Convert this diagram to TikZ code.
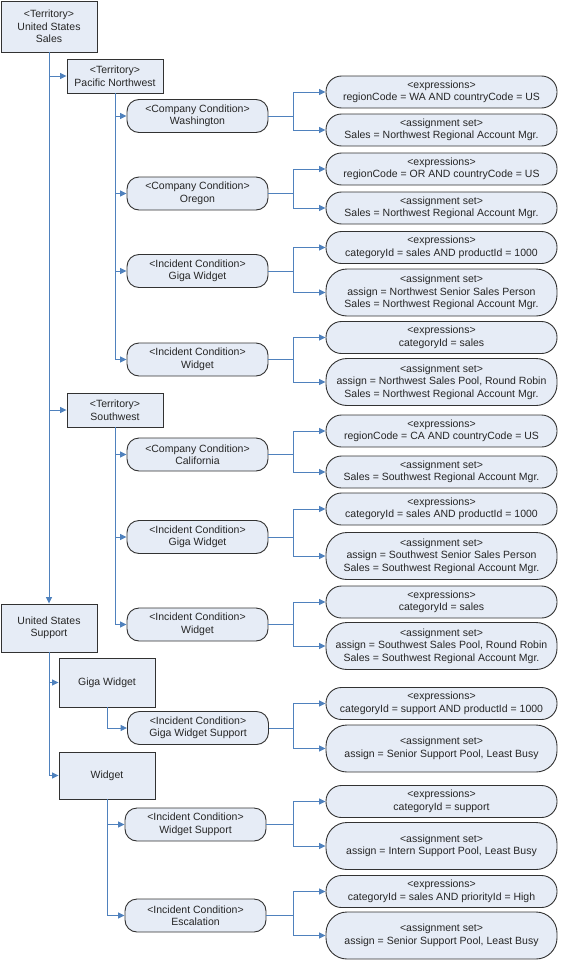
\documentclass[tikz,border=0pt]{standalone}
\usepackage{fontspec}
\setmainfont{Liberation Sans}
\usetikzlibrary{arrows.meta}
\definecolor{boxfill}{RGB}{230,236,246}
\definecolor{boxline}{RGB}{50,50,50}
\definecolor{linkblue}{RGB}{79,129,189}
\begin{document}
\begin{tikzpicture}[x=1pt,y=-1pt,
  every node/.style={font=\fontsize{10.5}{12.5}\selectfont, text=black!85, align=center, inner sep=0pt},
  terr/.style={draw=boxline, fill=boxfill, line width=0.9pt, minimum width=96pt},
  cond/.style={draw=boxline, fill=boxfill, line width=0.9pt, rounded corners=12pt, minimum width=141pt, minimum height=33pt},
  leaf/.style={draw=boxline, fill=boxfill, line width=0.9pt, rounded corners=15.5pt, minimum width=231pt, minimum height=32pt},
  leaftall/.style={leaf, rounded corners=21pt, minimum height=47pt},
  conn/.style={draw=linkblue, line width=0.9pt},
  tip/.style={conn, -{Triangle[length=6.5pt,width=6pt]}}
]
\useasboundingbox (0,0) rectangle (560,961);

% territories and product groups
\node[terr, minimum height=51pt] (ussales) at (49,26.5) {<Territory>\\United States\\Sales};
\node[terr, minimum height=34pt] (pnw) at (115,76) {<Territory>\\Pacific Northwest};
\node[terr, minimum height=34pt] (sw) at (115,410) {<Territory>\\Southwest};
\node[terr, minimum height=48pt] (ussupport) at (49,628) {United States\\Support};
\node[terr, minimum height=49pt] (gw) at (107,682.5) {Giga Widget};
\node[terr, minimum height=47pt] (wd) at (107,775.5) {Widget};

% conditions
\node[cond] (wa)  at (197.5,116)   {<Company Condition>\\Washington};
\node[cond] (or)  at (197.5,193.5) {<Company Condition>\\Oregon};
\node[cond] (gnw) at (197.5,271)   {<Incident Condition>\\Giga Widget};
\node[cond] (wnw) at (197.5,359.5) {<Incident Condition>\\Widget};
\node[cond] (ca)  at (197.5,454.5) {<Company Condition>\\California};
\node[cond] (gsw) at (197.5,537)   {<Incident Condition>\\Giga Widget};
\node[cond] (wsw) at (197.5,624.5) {<Incident Condition>\\Widget};
\node[cond] (gws) at (198,728)     {<Incident Condition>\\Giga Widget Support};
\node[cond] (ws)  at (195.5,824.5) {<Incident Condition>\\Widget Support};
\node[cond] (esc) at (195.5,915.5) {<Incident Condition>\\Escalation};

% expressions and assignment sets
\node[leaf] (waE) at (441.5,92)  {<expressions>\\regionCode = WA AND countryCode = US};
\node[leaf] (waA) at (441.5,130) {<assignment set>\\Sales = Northwest Regional Account Mgr.};
\node[leaf] (orE) at (441.5,169) {<expressions>\\regionCode = OR AND countryCode = US};
\node[leaf] (orA) at (441.5,208) {<assignment set>\\Sales = Northwest Regional Account Mgr.};
\node[leaf] (gnwE) at (441.5,247.5) {<expressions>\\categoryId = sales AND productId = 1000};
\node[leaftall] (gnwA) at (441.5,292.5) {<assignment set>\\assign = Northwest Senior Sales Person\\Sales = Northwest Regional Account Mgr.};
\node[leaf] (wnwE) at (441.5,337.5) {<expressions>\\categoryId = sales};
\node[leaftall] (wnwA) at (441.5,382) {<assignment set>\\assign = Northwest Sales Pool, Round Robin\\Sales = Northwest Regional Account Mgr.};
\node[leaf] (caE) at (441.5,431) {<expressions>\\regionCode = CA AND countryCode = US};
\node[leaf] (caA) at (441.5,472) {<assignment set>\\Sales = Southwest Regional Account Mgr.};
\node[leaf] (gswE) at (441.5,509) {<expressions>\\categoryId = sales AND productId = 1000};
\node[leaftall] (gswA) at (441.5,556) {<assignment set>\\assign = Southwest Senior Sales Person\\Sales = Southwest Regional Account Mgr.};
\node[leaf] (wswE) at (441.5,602) {<expressions>\\categoryId = sales};
\node[leaftall] (wswA) at (441.5,646) {<assignment set>\\assign = Southwest Sales Pool, Round Robin\\Sales = Southwest Regional Account Mgr.};
\node[leaf] (gwsE) at (441.5,703.5) {<expressions>\\categoryId = support AND productId = 1000};
\node[leaftall] (gwsA) at (441.5,748.5) {<assignment set>\\assign = Senior Support Pool, Least Busy};
\node[leaf] (wsE) at (441.5,801.5) {<expressions>\\categoryId = support};
\node[leaftall] (wsA) at (441.5,846) {<assignment set>\\assign = Intern Support Pool, Least Busy};
\node[leaf] (escE) at (441.5,891.5) {<expressions>\\categoryId = sales AND priorityId = High};
\node[leaftall] (escA) at (441.5,935.5) {<assignment set>\\assign = Senior Support Pool, Least Busy};

% tree connectors
\draw[tip] (ussales.south) -- (ussupport.north);
\draw[tip] (ussales.south) |- (pnw.west);
\draw[tip] (ussales.south) |- (sw.west);
\foreach \c in {wa,or,gnw,wnw} \draw[tip] (pnw.south) |- (\c.west);
\foreach \c in {ca,gsw,wsw} \draw[tip] (sw.south) |- (\c.west);
\draw[tip] (ussupport.south) |- (gw.west);
\draw[tip] (ussupport.south) |- (wd.west);
\draw[tip] (gw.south) |- (gws.west);
\draw[tip] (wd.south) |- (ws.west);
\draw[tip] (wd.south) |- (esc.west);

% condition brackets
\coordinate (brk) at (293,0);
\foreach \c in {wa,or,gnw,wnw,ca,gsw,wsw,gws,ws,esc} {
  \draw[conn] (\c.east) -- (\c.east -| brk);
  \draw[tip] (\c.east -| brk) |- (\c E.west);
  \draw[tip] (\c.east -| brk) |- (\c A.west);
}
\end{tikzpicture}
\end{document}
